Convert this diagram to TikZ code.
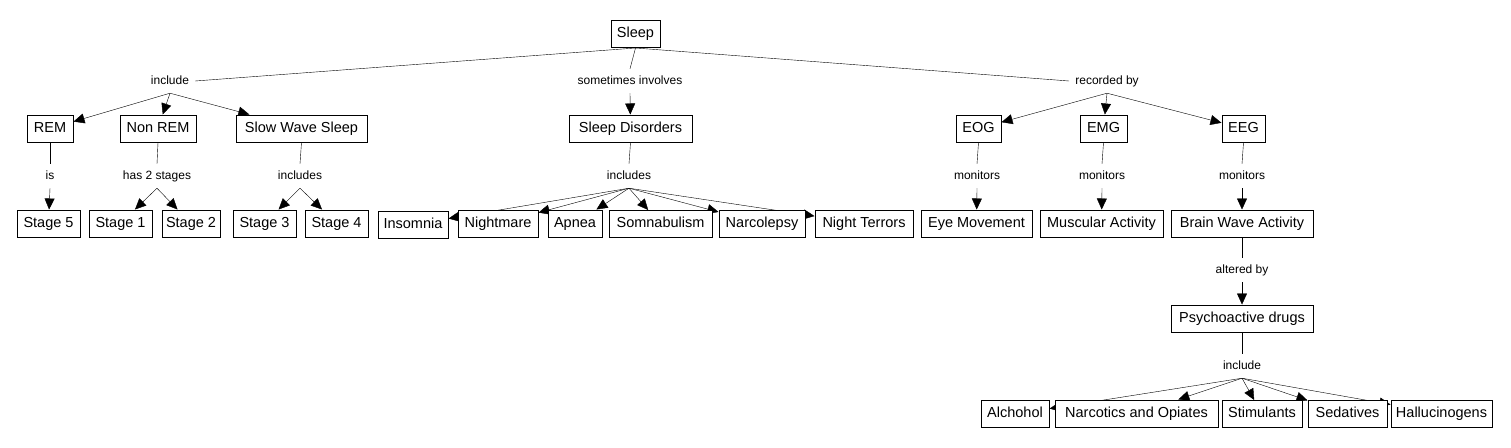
\documentclass[tikz,border=0pt]{standalone}
\usepackage{fontspec}
\setmainfont{Liberation Sans}
\usetikzlibrary{arrows.meta,backgrounds}
\begin{document}
\begin{tikzpicture}[x=1pt,y=-1pt,
    concept/.style={draw,fill=white,line width=1pt,minimum height=27pt,
      inner xsep=1pt,inner ysep=0pt,font=\fontsize{14.5}{16}\selectfont,
      text height=10.5pt,text depth=3pt},
    linkword/.style={inner xsep=6pt,inner ysep=0pt,minimum height=24pt,
      font=\fontsize{12}{14}\selectfont,text height=9pt,text depth=2.5pt},
    >={Triangle[length=11pt,width=10pt]}]
  \useasboundingbox (0,0) rectangle (1511,447);
  % concepts
  \node[concept,minimum width=49pt] (sleep) at (635.5,34) {Sleep};
  \node[concept,minimum width=46pt] (rem) at (50,128.5) {REM};
  \node[concept,minimum width=76pt] (nonrem) at (158,128.5) {Non REM};
  \node[concept,minimum width=131pt] (sws) at (301.5,128.5) {Slow Wave Sleep};
  \node[concept,minimum width=123pt] (disorders) at (630.5,128.5) {Sleep Disorders};
  \node[concept,minimum width=45pt] (eog) at (978.5,128.5) {EOG};
  \node[concept,minimum width=47pt] (emg) at (1103.5,128.5) {EMG};
  \node[concept,minimum width=43pt] (eeg) at (1243.5,128.5) {EEG};
  \node[concept,minimum width=63pt] (stage5) at (48.5,223.5) {Stage 5};
  \node[concept,minimum width=63pt] (stage1) at (120.5,223.5) {Stage 1};
  \node[concept,minimum width=58pt] (stage2) at (191,223.5) {Stage 2};
  \node[concept,minimum width=63pt] (stage3) at (264.5,223.5) {Stage 3};
  \node[concept,minimum width=63pt] (stage4) at (336.5,223.5) {Stage 4};
  \node[concept,minimum width=70pt] (insomnia) at (413,224.5) {Insomnia};
  \node[concept,minimum width=80pt] (nightmare) at (498,223.5) {Nightmare};
  \node[concept,minimum width=54pt] (apnea) at (575,223.5) {Apnea};
  \node[concept,minimum width=103pt] (somnab) at (660.5,224) {Somnabulism};
  \node[concept,minimum width=86pt] (narco) at (762,223.5) {Narcolepsy};
  \node[concept,minimum width=98pt] (terrors) at (864,223.5) {Night Terrors};
  \node[concept,minimum width=111pt] (eyemove) at (976.5,223.5) {Eye Movement};
  \node[concept,minimum width=123pt] (muscle) at (1101.5,223.5) {Muscular Activity};
  \node[concept,minimum width=142pt] (brain) at (1242,223.5) {Brain Wave Activity};
  \node[concept,minimum width=142pt] (psycho) at (1242,318.5) {Psychoactive drugs};
  \node[concept,minimum width=68pt] (alcohol) at (1015,414) {Alchohol};
  \node[concept,minimum width=163pt] (narcotics) at (1136.5,413.5) {Narcotics and Opiates};
  \node[concept,minimum width=80pt] (stimul) at (1262,414) {Stimulants};
  \node[concept,minimum width=79pt] (sedat) at (1347.5,414) {Sedatives};
  \node[concept,minimum width=101pt] (halluc) at (1441.5,413.5) {Hallucinogens};
  % linking words
  \node[linkword] (linclude) at (170,81) {include};
  \node[linkword] (lsometimes) at (630,81) {sometimes involves};
  \node[linkword] (lrecorded) at (1107,81) {recorded by};
  \node[linkword] (lis) at (50,176) {is};
  \node[linkword] (lhas) at (157,176) {has 2 stages};
  \node[linkword] (lincsws) at (300,176) {includes};
  \node[linkword] (lincdis) at (629,176) {includes};
  \node[linkword] (lmoneog) at (977,176) {monitors};
  \node[linkword] (lmonemg) at (1102,176) {monitors};
  \node[linkword] (lmoneeg) at (1242,176) {monitors};
  \node[linkword] (laltered) at (1242,270) {altered by};
  \node[linkword] (lincdrug) at (1242,366) {include};
  % connectors
  \begin{scope}[on background layer,line width=1pt]
    \draw (sleep.south) -- (linclude.east);
    \draw (sleep.south) -- (lsometimes.north);
    \draw (sleep.south) -- (lrecorded.west);
    \foreach \t in {rem,nonrem,sws}
      \draw[->] (linclude.south) -- (\t);
    \draw[->] (lsometimes.south) -- (disorders);
    \foreach \t in {eog,emg,eeg}
      \draw[->] (lrecorded.south) -- (\t);
    \draw (rem.south) -- (lis.north);
    \draw[->] (lis.south) -- (stage5);
    \draw (nonrem.south) -- (lhas.north);
    \foreach \t in {stage1,stage2}
      \draw[->] (lhas.south) -- (\t);
    \draw (sws.south) -- (lincsws.north);
    \foreach \t in {stage3,stage4}
      \draw[->] (lincsws.south) -- (\t);
    \draw (disorders.south) -- (lincdis.north);
    \foreach \t in {insomnia,nightmare,apnea,somnab,narco,terrors}
      \draw[->] (lincdis.south) -- (\t);
    \draw (eog.south) -- (lmoneog.north);
    \draw[->] (lmoneog.south) -- (eyemove);
    \draw (emg.south) -- (lmonemg.north);
    \draw[->] (lmonemg.south) -- (muscle);
    \draw (eeg.south) -- (lmoneeg.north);
    \draw[->] (lmoneeg.south) -- (brain);
    \draw (brain.south) -- (laltered.north);
    \draw[->] (laltered.south) -- (psycho);
    \draw (psycho.south) -- (lincdrug.north);
    \foreach \t in {alcohol,narcotics,stimul,sedat,halluc}
      \draw[->] (lincdrug.south) -- (\t);
  \end{scope}
\end{tikzpicture}
\end{document}
